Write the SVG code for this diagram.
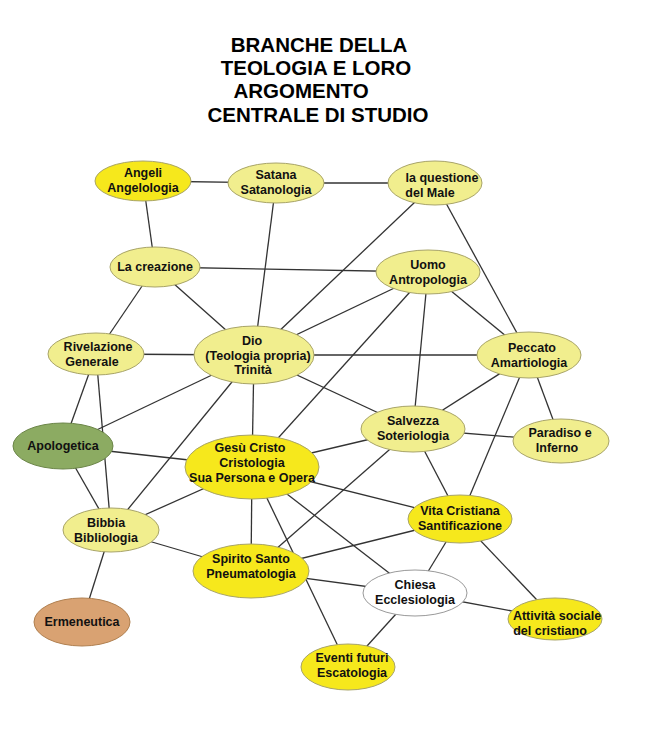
<svg xmlns="http://www.w3.org/2000/svg" width="647" height="736" viewBox="0 0 647 736">
<style>
.t{font-family:"Liberation Sans",Arial,sans-serif;font-weight:bold;font-size:20.5px;fill:#000;text-anchor:middle}
.n{font-family:"Liberation Sans",Arial,sans-serif;font-weight:bold;font-size:12.5px;fill:#111;text-anchor:middle}
.p{fill:#f1ee8e;stroke:#a8a468;stroke-width:1}
.b{fill:#f6e81c;stroke:#a8a468;stroke-width:1}
#edges line{stroke:#333;stroke-width:1.3}
</style>
<rect width="647" height="736" fill="#fff"/>
<g id="title">
<text class="t" x="319" y="52">BRANCHE DELLA</text>
<text class="t" x="316" y="75">TEOLOGIA E LORO</text>
<text class="t" x="301" y="98">ARGOMENTO</text>
<text class="t" x="318" y="122">CENTRALE DI STUDIO</text>
</g>
<g id="edges">
<line x1="143" y1="181" x2="276" y2="183"/>
<line x1="276" y1="183" x2="435" y2="183"/>
<line x1="143" y1="181" x2="155" y2="267"/>
<line x1="276" y1="183" x2="254" y2="355"/>
<line x1="435" y1="183" x2="254" y2="355"/>
<line x1="435" y1="183" x2="529" y2="355"/>
<line x1="155" y1="267" x2="428" y2="272"/>
<line x1="155" y1="267" x2="96" y2="354"/>
<line x1="155" y1="267" x2="254" y2="355"/>
<line x1="428" y1="272" x2="254" y2="355"/>
<line x1="428" y1="272" x2="529" y2="355"/>
<line x1="428" y1="272" x2="413" y2="429"/>
<line x1="428" y1="272" x2="252" y2="467"/>
<line x1="96" y1="354" x2="254" y2="355"/>
<line x1="96" y1="354" x2="63" y2="446"/>
<line x1="96" y1="354" x2="111" y2="530"/>
<line x1="254" y1="355" x2="529" y2="355"/>
<line x1="254" y1="355" x2="413" y2="429"/>
<line x1="254" y1="355" x2="63" y2="446"/>
<line x1="254" y1="355" x2="111" y2="530"/>
<line x1="254" y1="355" x2="252" y2="467"/>
<line x1="529" y1="355" x2="413" y2="429"/>
<line x1="529" y1="355" x2="561" y2="441"/>
<line x1="529" y1="355" x2="460" y2="519"/>
<line x1="413" y1="429" x2="561" y2="441"/>
<line x1="413" y1="429" x2="252" y2="467"/>
<line x1="413" y1="429" x2="460" y2="519"/>
<line x1="413" y1="429" x2="251" y2="571"/>
<line x1="63" y1="446" x2="252" y2="467"/>
<line x1="63" y1="446" x2="111" y2="530"/>
<line x1="252" y1="467" x2="111" y2="530"/>
<line x1="252" y1="467" x2="251" y2="571"/>
<line x1="252" y1="467" x2="460" y2="519"/>
<line x1="252" y1="467" x2="415" y2="593"/>
<line x1="252" y1="467" x2="348" y2="667"/>
<line x1="111" y1="530" x2="251" y2="571"/>
<line x1="111" y1="530" x2="82" y2="622"/>
<line x1="251" y1="571" x2="460" y2="519"/>
<line x1="251" y1="571" x2="415" y2="593"/>
<line x1="460" y1="519" x2="415" y2="593"/>
<line x1="460" y1="519" x2="555" y2="619"/>
<line x1="415" y1="593" x2="555" y2="619"/>
<line x1="415" y1="593" x2="348" y2="667"/>
</g>
<g id="angeli"><ellipse class="b" cx="143" cy="181" rx="48" ry="20"/><text class="n" x="143" y="177">Angeli</text><text class="n" x="143" y="192">Angelologia</text></g>
<g id="satana"><ellipse class="p" cx="276" cy="183" rx="48" ry="20"/><text class="n" x="276" y="179">Satana</text><text class="n" x="276" y="194">Satanologia</text></g>
<g id="male"><ellipse class="p" cx="435" cy="183" rx="47" ry="22"/><text class="n" x="442" y="182">la questione</text><text class="n" x="430" y="197">del Male</text></g>
<g id="creazione"><ellipse class="p" cx="155" cy="267" rx="45" ry="20"/><text class="n" x="155" y="271">La creazione</text></g>
<g id="uomo"><ellipse class="p" cx="428" cy="272" rx="52" ry="22"/><text class="n" x="428" y="269">Uomo</text><text class="n" x="428" y="284">Antropologia</text></g>
<g id="rivelazione"><ellipse class="p" cx="96" cy="354" rx="48" ry="21"/><text class="n" x="98" y="351">Rivelazione</text><text class="n" x="92" y="366">Generale</text></g>
<g id="dio"><ellipse class="p" cx="254" cy="355" rx="60" ry="29"/><text class="n" x="252" y="345">Dio</text><text class="n" x="258" y="360">(Teologia propria)</text><text class="n" x="253" y="374">Trinità</text></g>
<g id="peccato"><ellipse class="p" cx="529" cy="355" rx="52" ry="23"/><text class="n" x="532" y="352">Peccato</text><text class="n" x="529" y="367">Amartiologia</text></g>
<g id="apologetica"><ellipse fill="#8cab62" stroke="#6b8548" cx="63" cy="446" rx="50" ry="23"/><text class="n" x="63" y="450">Apologetica</text></g>
<g id="salvezza"><ellipse class="p" cx="413" cy="429" rx="52" ry="23"/><text class="n" x="413" y="425">Salvezza</text><text class="n" x="413" y="440">Soteriologia</text></g>
<g id="paradiso"><ellipse class="p" cx="561" cy="441" rx="48" ry="22"/><text class="n" x="560" y="437">Paradiso e</text><text class="n" x="557" y="452">Inferno</text></g>
<g id="gesu"><ellipse class="b" cx="252" cy="467" rx="67" ry="32"/><text class="n" x="250" y="452">Gesù  Cristo</text><text class="n" x="252" y="467">Cristologia</text><text class="n" x="252" y="482">Sua Persona e Opera</text></g>
<g id="bibbia"><ellipse class="p" cx="111" cy="530" rx="48" ry="22"/><text class="n" x="106" y="527">Bibbia</text><text class="n" x="106" y="542">Bibliologia</text></g>
<g id="vita"><ellipse class="b" cx="460" cy="519" rx="52" ry="24"/><text class="n" x="460" y="515">Vita Cristiana</text><text class="n" x="460" y="530">Santificazione</text></g>
<g id="spirito"><ellipse class="b" cx="251" cy="571" rx="58" ry="27"/><text class="n" x="251" y="563">Spirito Santo</text><text class="n" x="251" y="578">Pneumatologia</text></g>
<g id="chiesa"><ellipse fill="#fff" stroke="#999" cx="415" cy="593" rx="52" ry="23"/><text class="n" x="415" y="589">Chiesa</text><text class="n" x="415" y="604">Ecclesiologia</text></g>
<g id="ermeneutica"><ellipse fill="#d9a272" stroke="#b08050" cx="82" cy="622" rx="48" ry="24"/><text class="n" x="82" y="626">Ermeneutica</text></g>
<g id="attivita"><ellipse class="b" cx="555" cy="619" rx="47" ry="21"/><text class="n" x="557" y="620">Attività sociale</text><text class="n" x="550" y="635">del cristiano</text></g>
<g id="eventi"><ellipse class="b" cx="348" cy="667" rx="47" ry="23"/><text class="n" x="352" y="662">Eventi futuri</text><text class="n" x="352" y="677">Escatologia</text></g>
</svg>
